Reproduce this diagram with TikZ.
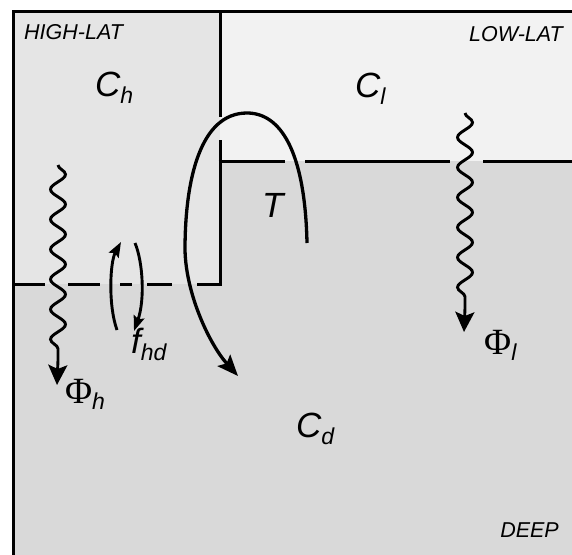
\documentclass[tikz,border=0pt]{standalone}
\usepackage{fontspec}
\setmainfont{Liberation Sans}
\newfontfamily\phifont{Liberation Serif}
\usetikzlibrary{decorations.pathmorphing,arrows.meta}
\definecolor{deepc}{RGB}{217,217,217}
\definecolor{highc}{RGB}{229,229,229}
\definecolor{lowc}{RGB}{242,242,242}
\newcommand\biglab[2]{{\fontsize{35}{35}\selectfont\itshape #1}\raisebox{-7pt}{\fontsize{23}{23}\selectfont\itshape #2}}
\newcommand\philab[1]{{\phifont\fontsize{37}{37}\selectfont Φ}\raisebox{-6pt}{\fontsize{23}{23}\selectfont\itshape #1}}
\begin{document}
\begin{tikzpicture}[x=1pt,y=-1pt,
  wall/.style={line width=3pt},
  flow/.style={line width=3.3pt,-{Stealth[length=21pt,width=17pt,inset=4pt]}},
  smallflow/.style={line width=2.9pt,-{Stealth[length=15pt,width=11pt,inset=2.5pt]}},
  wavy/.style={line width=2.9pt,-{Stealth[length=20pt,width=19pt,inset=4pt]}},
  snk/.style={decoration={snake,segment length=30pt,amplitude=7.5pt}},
  region/.style={inner sep=0pt,anchor=base west,font=\fontsize{21.5}{21.5}\selectfont\itshape},
  sym/.style={inner sep=0pt,anchor=base west}]
\useasboundingbox (0,0) rectangle (572,554);
\clip (0,0) rectangle (572,554);
% fills
\fill[deepc] (13,11) rectangle (590,570);
\fill[highc] (13,11) rectangle (220,284);
\fill[lowc] (220,11) rectangle (590,161);
% outer walls
\draw[wall,line join=miter] (590,11) -- (13,11) -- (13,570);
% vertical divider with gap
\draw[wall] (220,11) -- (220,117);
\draw[wall] (220,140) -- (220,284);
% high-lat bottom with gaps
\draw[wall] (13,284) -- (45,284);
\draw[wall] (68,284) -- (100,284);
\draw[wall] (120,284) -- (132,284);
\draw[wall] (147,284) -- (172,284);
\draw[wall] (197,284) -- (221.5,284);
% low-lat bottom with gaps
\draw[wall] (218.5,161) -- (285,161);
\draw[wall] (305,161) -- (450,161);
\draw[wall] (483,161) -- (590,161);
% labels
\node[region] (hl) at (24,39) {HIGH-LAT};
\node[region,anchor=base east] (ll) at (563,41) {LOW-LAT};
\node[region,anchor=base east] (dp) at (559,537) {DEEP};
\node[sym] (ch) at (95,96) {\biglab{C}{h}};
\node[sym] (cl) at (355,97) {\biglab{C}{l}};
\node[sym] (cd) at (296,437) {\biglab{C}{d}};
\node[sym] (tt) at (262,217) {{\fontsize{35}{35}\selectfont\itshape T}};
\node[sym] (fhd) at (131,353) {\biglab{f}{hd}};
\node[sym] (phh) at (65,403) {\philab{h}};
\node[sym] (phl) at (484,354) {\philab{l}};
% coordinates
\coordinate (hs) at (58,165);
\coordinate (hb) at (58,360);
\coordinate (he) at (57,385);
\coordinate (ls) at (465,113);
\coordinate (lb) at (465,308);
\coordinate (le) at (464,332);
\coordinate (ta) at (307,243);
\coordinate (tb) at (247,113);
\coordinate (tc) at (185,250);
\coordinate (td) at (238,376);
\coordinate (fa) at (117,330);
\coordinate (fb) at (121,242);
\coordinate (fc) at (135,243);
\coordinate (fd) at (134,331);
% wavy fluxes
\draw[wavy] (hs) decorate[snk] {-- (hb)} -- (he);
\draw[wavy] (ls) decorate[snk] {-- (lb)} -- (le);
% overturning T
\draw[flow] (ta) .. controls (305,150) and (280,113) .. (tb)
  .. controls (200,113) and (185,180) .. (tc)
  .. controls (186,295) and (210,345) .. (td);
% mixing f_hd
\draw[smallflow] (fa) .. controls (108,305) and (110,262) .. (fb);
\draw[smallflow] (fc) .. controls (143,262) and (145,300) .. (fd);
\end{tikzpicture}
\end{document}
